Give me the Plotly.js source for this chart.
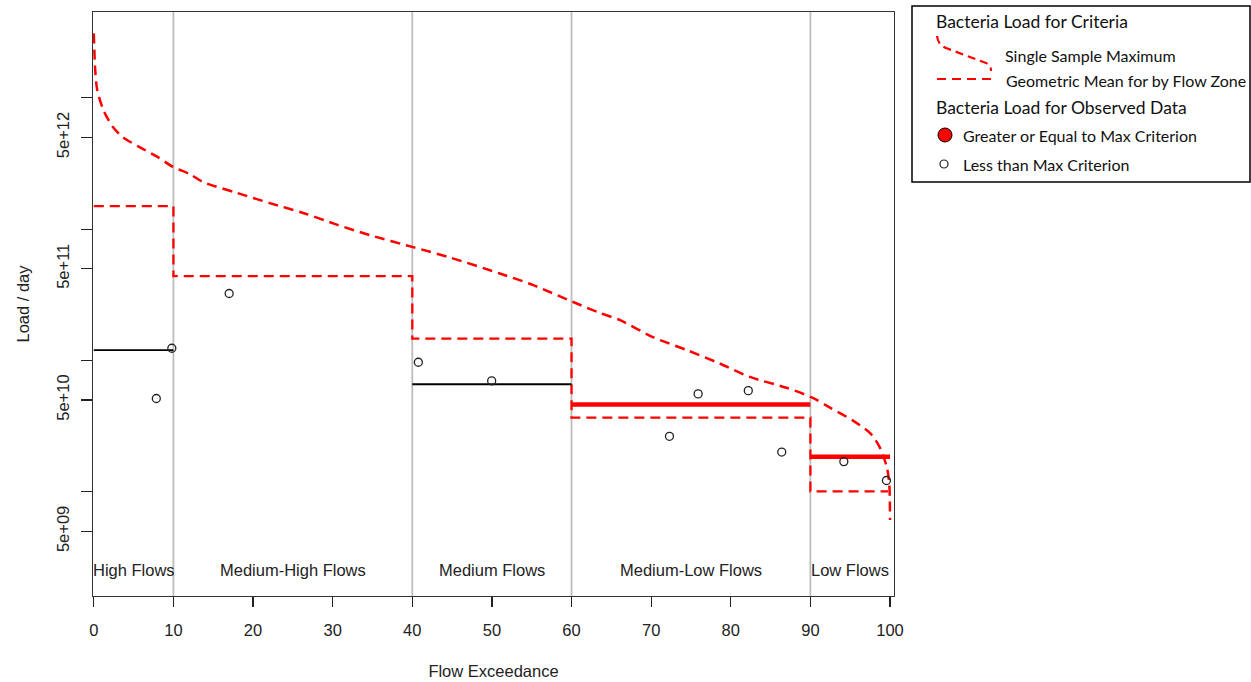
<!DOCTYPE html>
<html>
<head>
<meta charset="utf-8">
<script src="https://cdn.plot.ly/plotly-3.0.1.min.js"></script>
<style>html,body{margin:0;padding:0;background:#fff;}#chart{width:1251px;height:682px;}</style>
</head>
<body>
<div id="chart"></div>
<script>
// ---- data ----
const zoneEdges = [0, 10, 40, 60, 90, 100];
const zoneNames = ["High Flows", "Medium-High Flows", "Medium Flows", "Medium-Low Flows", "Low Flows"];

// Single sample maximum load duration curve
const ssmX = [0, 0.18, 0.43, 1.2, 2.4, 3.7, 5.8, 8.0, 10.0, 12.1, 13.7, 18.0, 22.1, 26.3, 30.6, 34.7, 40.1, 44.7, 51.0, 55.2, 60.2, 63.6, 66.1, 70.2, 74.5, 78.6, 82.4, 87.0, 90.3, 92.4, 95.3, 97.5, 98.7, 99.6, 99.9, 100];
const ssmY = [3.1e13, 1.63e13, 1.15e13, 8.1e12, 6.0e12, 5.0e12, 4.2e12, 3.55e12, 2.97e12, 2.62e12, 2.29e12, 1.89e12, 1.58e12, 1.33e12, 1.08e12, 9.0e11, 7.3e11, 6.1e11, 4.6e11, 3.75e11, 2.79e11, 2.30e11, 2.03e11, 1.51e11, 1.20e11, 9.5e10, 7.5e10, 6.2e10, 5.2e10, 4.4e10, 3.5e10, 2.8e10, 2.19e10, 1.54e10, 1.16e10, 6.1e9];

// Geometric mean criterion by flow zone (step), low zone ends where it meets the curve
const geoX = [0, 10, 40, 60, 90, 99.75];
const geoY = [1.50e12, 4.39e11, 1.47e11, 3.68e10, 1.01e10, 1.01e10];

// Observed median load per flow zone (null = no line)
const medianY = [1.20e11, null, 6.6e10, 4.63e10, 1.85e10];
const zoneGeo = [1.50e12, 4.39e11, 1.47e11, 3.68e10, 1.01e10];

// Observed samples
const obsX = [7.85, 9.80, 17.0, 40.76, 49.97, 72.3, 75.9, 82.2, 86.4, 94.2, 99.55];
const obsY = [5.14e10, 1.24e11, 3.24e11, 9.7e10, 7.0e10, 2.65e10, 5.57e10, 5.9e10, 2.01e10, 1.70e10, 1.22e10];

const yTickVals = [5e9, 1e10, 5e10, 1e11, 5e11, 1e12, 5e12, 1e13];
const yTickText = ["5e+09", "", "5e+10", "", "5e+11", "", "5e+12", ""];
const xTickVals = [0, 10, 20, 30, 40, 50, 60, 70, 80, 90, 100];

const labelY = 2.56e9;

// ---- build traces ----
const RED = "#ff0000";
const traces = [];

traces.push({x: ssmX, y: ssmY, mode: "lines", type: "scatter", hoverinfo: "skip",
  line: {color: RED, width: 2.5, dash: "10px,6px", shape: "spline", smoothing: 0.8}});
traces.push({x: geoX, y: geoY, mode: "lines", type: "scatter", hoverinfo: "skip",
  line: {color: RED, width: 2.3, dash: "10px,6px", shape: "hv"}});

const blackX = [], blackY = [], redX = [], redY = [];
medianY.forEach((m, i) => {
  if (m === null) return;
  const tx = m > zoneGeo[i] ? redX : blackX;
  const ty = m > zoneGeo[i] ? redY : blackY;
  tx.push(zoneEdges[i], zoneEdges[i + 1], null);
  ty.push(m, m, null);
});
traces.push({x: blackX, y: blackY, mode: "lines", type: "scatter", hoverinfo: "skip",
  line: {color: "#000", width: 1.8}});
traces.push({x: redX, y: redY, mode: "lines", type: "scatter", hoverinfo: "skip",
  line: {color: RED, width: 4.5}});

traces.push({x: obsX, y: obsY, mode: "markers", type: "scatter", hoverinfo: "skip",
  marker: {symbol: "circle-open", size: 8, color: "#222", line: {width: 1.3, color: "#222"}}});

// ---- shapes & annotations ----
const shapes = [];
const annotations = [];
zoneEdges.slice(1, -1).forEach(e => {
  shapes.push({type: "line", xref: "x", yref: "paper", x0: e, x1: e, y0: 0, y1: 1,
    line: {color: "#bdbdbd", width: 1.8}, layer: "below"});
});
zoneNames.forEach((n, i) => {
  annotations.push({x: (zoneEdges[i] + zoneEdges[i + 1]) / 2, y: Math.log10(labelY), xref: "x", yref: "y",
    text: n, showarrow: false, xanchor: "center", yanchor: "middle",
    font: {family: "Liberation Sans, Arial, sans-serif", size: 16.5, color: "#222"}});
});

// legend (paper coordinates from pixel positions of the plot frame)
const L = 93, R = 894, T = 12, B = 596;
const PX = v => (v - L) / (R - L);
const PY = v => (B - v) / (B - T);
const LF = "Lato, Noto Sans, sans-serif";
shapes.push({type: "rect", xref: "paper", yref: "paper", x0: PX(912), x1: PX(1250), y0: PY(6), y1: PY(182),
  line: {color: "#000", width: 1.5}, fillcolor: "rgba(0,0,0,0)"});
shapes.push({type: "path", xref: "paper", yref: "paper",
  path: `M${PX(937)},${PY(36)} Q${PX(938)},${PY(45)} ${PX(946)},${PY(48)} L${PX(986)},${PY(63)} Q${PX(991)},${PY(65)} ${PX(991)},${PY(71)}`,
  line: {color: RED, width: 2.2, dash: "8px,5px"}});
shapes.push({type: "line", xref: "paper", yref: "paper", x0: PX(937), x1: PX(993), y0: PY(79), y1: PY(79),
  line: {color: RED, width: 2.2, dash: "9px,6px"}});
shapes.push({type: "circle", xref: "paper", yref: "paper", x0: PX(938), x1: PX(952), y0: PY(128), y1: PY(142),
  fillcolor: RED, line: {color: "#000", width: 1}});
shapes.push({type: "circle", xref: "paper", yref: "paper", x0: PX(940), x1: PX(948), y0: PY(160), y1: PY(168),
  fillcolor: "#fff", line: {color: "#222", width: 1.2}});
const legText = [
  ["Bacteria Load for Criteria", 934, 22, 17.5],
  ["Single Sample Maximum", 1003, 55, 16],
  ["Geometric Mean for by Flow Zone", 1004, 80, 16],
  ["Bacteria Load for Observed Data", 934, 107, 17.5],
  ["Greater or Equal to Max Criterion", 961, 136, 16],
  ["Less than Max Criterion", 961, 164, 16]
];
legText.forEach(([t, x, y, s]) => {
  annotations.push({text: t, xref: "paper", yref: "paper", x: PX(x), y: PY(y), showarrow: false,
    xanchor: "left", yanchor: "middle", font: {family: LF, size: s, color: "#111"}});
});

const AF = "Liberation Sans, Arial, sans-serif";
const layout = {
  width: 1251, height: 682,
  margin: {l: L, r: 1251 - R, t: T, b: 682 - B},
  paper_bgcolor: "#fff", plot_bgcolor: "#fff",
  showlegend: false,
  font: {family: AF, size: 16.5, color: "#222"},
  xaxis: {range: [-0.1, 100.5], tickvals: xTickVals, ticks: "outside", ticklen: 10, tickwidth: 1.2,
    tickcolor: "#222", showgrid: false, zeroline: false, showline: true, mirror: true,
    linecolor: "#333", linewidth: 1.2, ticklabelstandoff: 9,
    title: {text: "Flow Exceedance", font: {family: AF, size: 16.5, color: "#222"}, standoff: 27}},
  yaxis: {type: "log", range: [9.207, 13.654], tickvals: yTickVals, ticktext: yTickText,
    ticks: "outside", ticklen: 11, tickwidth: 1.2, tickcolor: "#222", tickangle: -90,
    showgrid: false, zeroline: false, showline: true, mirror: true, linecolor: "#333", linewidth: 1.2,
    ticklabelstandoff: 5,
    title: {text: "Load / day", font: {family: AF, size: 16.5, color: "#222"}, standoff: 20}},
  shapes: shapes,
  annotations: annotations
};

Plotly.newPlot("chart", traces, layout, {staticPlot: true, displayModeBar: false});
</script>
</body>
</html>
